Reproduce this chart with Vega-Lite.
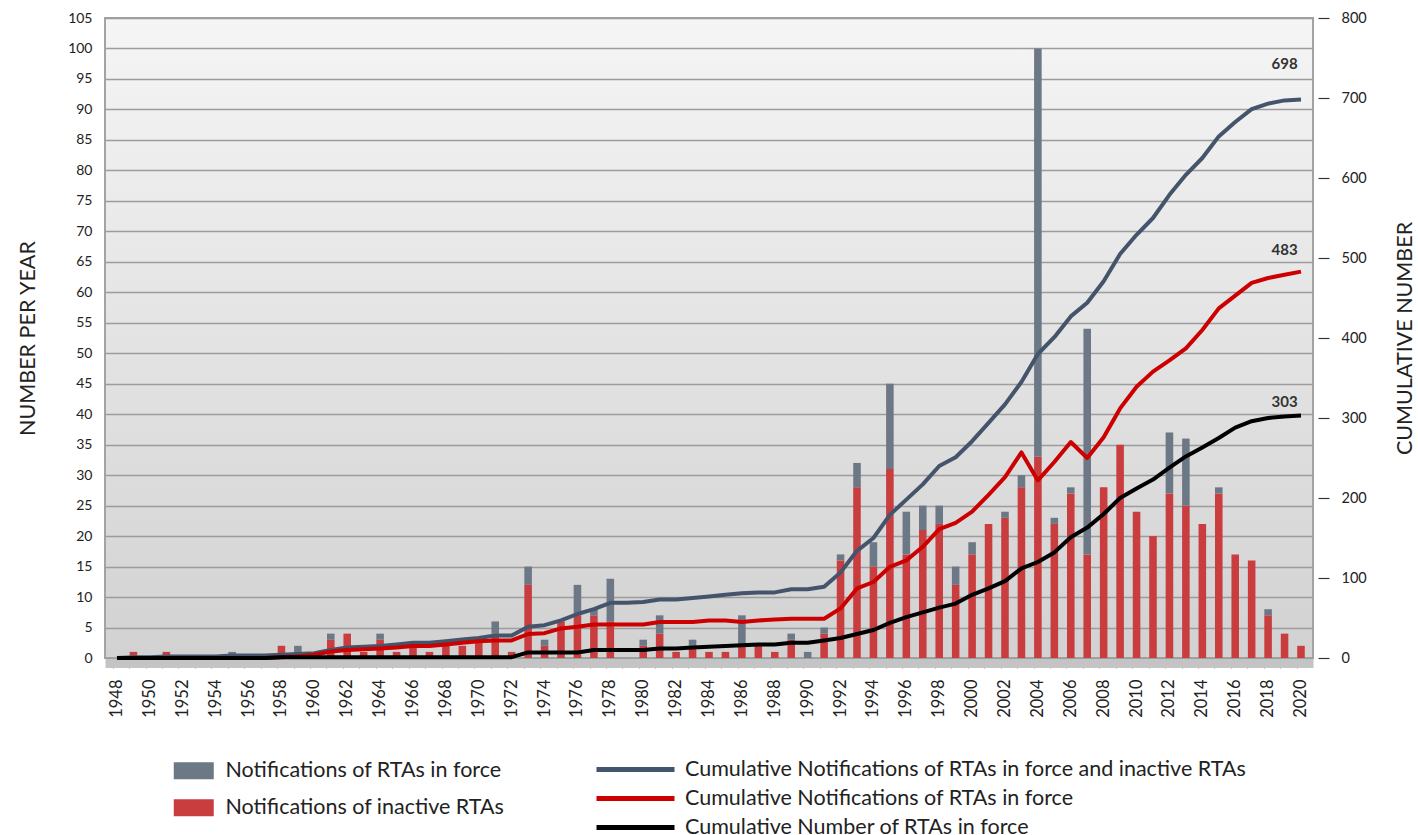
{
  "$schema": "https://vega.github.io/schema/vega-lite/v6.json",
  "autosize": {"type": "none"},
  "padding": {"left": 105, "top": 18, "right": 105, "bottom": 177},
  "width": 1208,
  "height": 640,
  "background": "#ffffff",
  "config": {
    "font": "Lato",
    "view": {
      "fill": {"gradient": "linear", "x1": 0, "y1": 0, "x2": 0, "y2": 1, "stops": [{"offset": 0, "color": "#f5f5f5"}, {"offset": 1, "color": "#d2d2d2"}]},
      "stroke": "#a3a3a3",
      "strokeWidth": 2
    },
    "axis": {"labelFont": "Lato", "titleFont": "Lato", "labelColor": "#222222", "titleColor": "#222222"}
  },
  "datasets": {
    "rta": [
      {"year":1948,"red":0,"gray":0,"tot":0,"inf":0,"num":0},
      {"year":1949,"red":1,"gray":0,"tot":1,"inf":0,"num":0},
      {"year":1950,"red":0,"gray":0,"tot":1,"inf":0,"num":0},
      {"year":1951,"red":1,"gray":0,"tot":2,"inf":0,"num":0},
      {"year":1952,"red":0,"gray":0,"tot":2,"inf":0,"num":0},
      {"year":1953,"red":0,"gray":0,"tot":2,"inf":0,"num":0},
      {"year":1954,"red":0,"gray":0,"tot":2,"inf":0,"num":0},
      {"year":1955,"red":0,"gray":1,"tot":3,"inf":0,"num":0},
      {"year":1956,"red":0,"gray":0,"tot":3,"inf":0,"num":0},
      {"year":1957,"red":0,"gray":0,"tot":3,"inf":0,"num":0},
      {"year":1958,"red":2,"gray":0,"tot":4,"inf":1,"num":1},
      {"year":1959,"red":0,"gray":2,"tot":5,"inf":2,"num":1},
      {"year":1960,"red":0,"gray":0,"tot":6,"inf":4,"num":1},
      {"year":1961,"red":3,"gray":1,"tot":10,"inf":8,"num":1},
      {"year":1962,"red":4,"gray":0,"tot":13,"inf":10,"num":1},
      {"year":1963,"red":1,"gray":0,"tot":14,"inf":11,"num":1},
      {"year":1964,"red":3,"gray":1,"tot":15,"inf":12,"num":1},
      {"year":1965,"red":1,"gray":0,"tot":17,"inf":13,"num":1},
      {"year":1966,"red":2,"gray":0,"tot":19,"inf":15,"num":1},
      {"year":1967,"red":1,"gray":0,"tot":19,"inf":15,"num":1},
      {"year":1968,"red":2,"gray":0,"tot":21,"inf":17,"num":1},
      {"year":1969,"red":2,"gray":0,"tot":23,"inf":19,"num":1},
      {"year":1970,"red":3,"gray":0,"tot":25,"inf":21,"num":1},
      {"year":1971,"red":4,"gray":2,"tot":28,"inf":22,"num":1},
      {"year":1972,"red":1,"gray":0,"tot":28,"inf":22,"num":1},
      {"year":1973,"red":12,"gray":3,"tot":39,"inf":30,"num":7},
      {"year":1974,"red":2,"gray":1,"tot":41,"inf":31,"num":7},
      {"year":1975,"red":6,"gray":0,"tot":47,"inf":37,"num":7},
      {"year":1976,"red":7,"gray":5,"tot":55,"inf":39,"num":7},
      {"year":1977,"red":7,"gray":1,"tot":61,"inf":42,"num":10},
      {"year":1978,"red":6,"gray":7,"tot":69,"inf":42,"num":10},
      {"year":1979,"red":0,"gray":0,"tot":69,"inf":42,"num":10},
      {"year":1980,"red":2,"gray":1,"tot":70,"inf":42,"num":10},
      {"year":1981,"red":4,"gray":3,"tot":73,"inf":45,"num":12},
      {"year":1982,"red":1,"gray":0,"tot":73,"inf":45,"num":12},
      {"year":1983,"red":2,"gray":1,"tot":75,"inf":45,"num":13},
      {"year":1984,"red":1,"gray":0,"tot":77,"inf":47,"num":14},
      {"year":1985,"red":1,"gray":0,"tot":79,"inf":47,"num":15},
      {"year":1986,"red":2,"gray":5,"tot":81,"inf":45,"num":16},
      {"year":1987,"red":2,"gray":0,"tot":82,"inf":47,"num":17},
      {"year":1988,"red":1,"gray":0,"tot":82,"inf":48,"num":17},
      {"year":1989,"red":3,"gray":1,"tot":86,"inf":49,"num":19},
      {"year":1990,"red":0,"gray":1,"tot":86,"inf":49,"num":19},
      {"year":1991,"red":4,"gray":1,"tot":89,"inf":49,"num":22},
      {"year":1992,"red":16,"gray":1,"tot":107,"inf":62,"num":25},
      {"year":1993,"red":28,"gray":4,"tot":134,"inf":87,"num":30},
      {"year":1994,"red":15,"gray":4,"tot":150,"inf":95,"num":35},
      {"year":1995,"red":31,"gray":14,"tot":179,"inf":114,"num":44},
      {"year":1996,"red":17,"gray":7,"tot":198,"inf":122,"num":51},
      {"year":1997,"red":21,"gray":4,"tot":217,"inf":139,"num":57},
      {"year":1998,"red":22,"gray":3,"tot":240,"inf":161,"num":63},
      {"year":1999,"red":12,"gray":3,"tot":251,"inf":169,"num":68},
      {"year":2000,"red":17,"gray":2,"tot":271,"inf":183,"num":79},
      {"year":2001,"red":22,"gray":0,"tot":294,"inf":204,"num":87},
      {"year":2002,"red":23,"gray":1,"tot":317,"inf":226,"num":96},
      {"year":2003,"red":28,"gray":2,"tot":345,"inf":257,"num":112},
      {"year":2004,"red":33,"gray":67,"tot":380,"inf":222,"num":120},
      {"year":2005,"red":22,"gray":1,"tot":401,"inf":245,"num":132},
      {"year":2006,"red":27,"gray":1,"tot":427,"inf":270,"num":151},
      {"year":2007,"red":17,"gray":37,"tot":444,"inf":250,"num":163},
      {"year":2008,"red":28,"gray":0,"tot":471,"inf":276,"num":180},
      {"year":2009,"red":35,"gray":0,"tot":505,"inf":312,"num":200},
      {"year":2010,"red":24,"gray":0,"tot":529,"inf":339,"num":212},
      {"year":2011,"red":20,"gray":0,"tot":550,"inf":358,"num":223},
      {"year":2012,"red":27,"gray":10,"tot":579,"inf":372,"num":238},
      {"year":2013,"red":25,"gray":11,"tot":604,"inf":387,"num":252},
      {"year":2014,"red":22,"gray":0,"tot":625,"inf":410,"num":263},
      {"year":2015,"red":27,"gray":1,"tot":652,"inf":437,"num":275},
      {"year":2016,"red":17,"gray":0,"tot":670,"inf":453,"num":288},
      {"year":2017,"red":16,"gray":0,"tot":686,"inf":469,"num":296},
      {"year":2018,"red":7,"gray":1,"tot":693,"inf":475,"num":300},
      {"year":2019,"red":4,"gray":0,"tot":697,"inf":479,"num":302},
      {"year":2020,"red":2,"gray":0,"tot":698,"inf":483,"num":303}
    ],
    "labels": [
      {"year":2019,"k":"tot","v":697,"t":"698"},
      {"year":2019,"k":"inf","v":479,"t":"483"},
      {"year":2019,"k":"num","v":302,"t":"303"}
    ]
  },
  "resolve": {"scale": {"y": "independent"}, "axis": {"x": "independent"}},
  "layer": [
    {
      "data": {"name": "rta"},
      "transform": [{"fold": ["red", "gray"], "as": ["type", "count"]}],
      "mark": {"type": "bar"},
      "encoding": {
        "x": {
          "field": "year", "type": "ordinal",
          "scale": {"type": "band", "paddingInner": 0.54, "paddingOuter": 0.5},
          "axis": {"orient": "bottom", "bandPosition": 0, "labels": false, "ticks": true, "tickSize": 5, "tickColor": "#8c8c8c", "tickWidth": 1, "domain": true, "domainColor": "#c4c4c4", "domainWidth": 9, "offset": 5, "grid": false, "title": null}
        },
        "y": {
          "field": "count", "type": "quantitative", "stack": "zero",
          "scale": {"domain": [0, 105], "nice": false, "zero": true},
          "axis": {"orient": "left", "values": [0,5,10,15,20,25,30,35,40,45,50,55,60,65,70,75,80,85,90,95,100,105], "grid": true, "gridColor": "#9c9c9c", "gridWidth": 1.5, "ticks": false, "domain": false, "labelFontSize": 14, "labelPadding": 13, "title": "NUMBER PER YEAR", "titleFontSize": 21.5, "titleFontWeight": "normal", "titlePadding": 28}
        },
        "fill": {
          "field": "type", "type": "nominal",
          "scale": {"domain": ["gray", "red"], "range": ["#6c7886", "#c93d3f"]},
          "legend": {"orient": "none", "legendX": 78, "legendY": 742, "title": null, "direction": "vertical", "symbolType": "M-2,-0.85H2V0.85H-2Z", "symbolSize": 400, "symbolStrokeWidth": 0, "labelFont": "Lato", "labelFontSize": 21.5, "labelColor": "#222222", "labelOffset": 21, "labelLimit": 0, "rowPadding": 14, "padding": 0, "labelExpr": "datum.label == 'gray' ? 'Notifications of RTAs in force' : 'Notifications of inactive RTAs'"}
        },
        "order": {"field": "type", "sort": "descending"}
      }
    },
    {
      "layer": [
        {
          "data": {"name": "rta"},
          "transform": [{"fold": ["tot", "inf", "num"], "as": ["series", "value"]}],
          "mark": {"type": "line", "strokeWidth": 4, "strokeJoin": "round"},
          "encoding": {
            "x": {
              "field": "year", "type": "ordinal",
              "scale": {"type": "band", "paddingInner": 0.54, "paddingOuter": 0.5},
              "axis": {"orient": "bottom", "values": [1948,1950,1952,1954,1956,1958,1960,1962,1964,1966,1968,1970,1972,1974,1976,1978,1980,1982,1984,1986,1988,1990,1992,1994,1996,1998,2000,2002,2004,2006,2008,2010,2012,2014,2016,2018,2020], "labelAngle": 270, "labelFontSize": 16.5, "labelPadding": 21, "ticks": false, "domain": false, "grid": false, "title": null}
            },
            "y": {
              "field": "value", "type": "quantitative",
              "scale": {"domain": [0, 800], "nice": false},
              "axis": {"orient": "right", "values": [0,100,200,300,400,500,600,700,800], "grid": false, "domain": false, "ticks": true, "tickSize": 11, "tickColor": "#333333", "tickWidth": 1.2, "offset": 5, "labelFontSize": 14.5, "labelPadding": 12, "title": "CUMULATIVE NUMBER", "titleFontSize": 21.5, "titleFontWeight": "normal", "titleAngle": 270, "titlePadding": 50}
            },
            "stroke": {
              "field": "series", "type": "nominal",
              "scale": {"domain": ["tot", "inf", "num"], "range": ["#44546a", "#cc0000", "#000000"]},
              "legend": {"orient": "none", "legendX": 518, "legendY": 739, "title": null, "direction": "vertical", "symbolType": "M-3.9,0H3.9", "symbolSize": 400, "symbolStrokeWidth": 5, "labelFont": "Lato", "labelFontSize": 21.5, "labelColor": "#222222", "labelOffset": 37, "labelLimit": 0, "rowPadding": 6, "padding": 0, "labelExpr": "datum.label == 'tot' ? 'Cumulative Notifications of RTAs in force and inactive RTAs' : datum.label == 'inf' ? 'Cumulative Notifications of RTAs in force' : 'Cumulative Number of RTAs in force'"}
            }
          }
        },
        {
          "data": {"name": "labels"},
          "transform": [{"filter": "datum.k == 'tot'"}],
          "mark": {"type": "text", "fontWeight": "bold", "fontSize": 15, "color": "#333333", "dy": -36},
          "encoding": {"x": {"field": "year", "type": "ordinal"}, "y": {"field": "v", "type": "quantitative"}, "text": {"field": "t"}}
        },
        {
          "data": {"name": "labels"},
          "transform": [{"filter": "datum.k == 'inf'"}],
          "mark": {"type": "text", "fontWeight": "bold", "fontSize": 15, "color": "#333333", "dy": -25},
          "encoding": {"x": {"field": "year", "type": "ordinal"}, "y": {"field": "v", "type": "quantitative"}, "text": {"field": "t"}}
        },
        {
          "data": {"name": "labels"},
          "transform": [{"filter": "datum.k == 'num'"}],
          "mark": {"type": "text", "fontWeight": "bold", "fontSize": 15, "color": "#333333", "dy": -14},
          "encoding": {"x": {"field": "year", "type": "ordinal"}, "y": {"field": "v", "type": "quantitative"}, "text": {"field": "t"}}
        }
      ]
    }
  ]
}
